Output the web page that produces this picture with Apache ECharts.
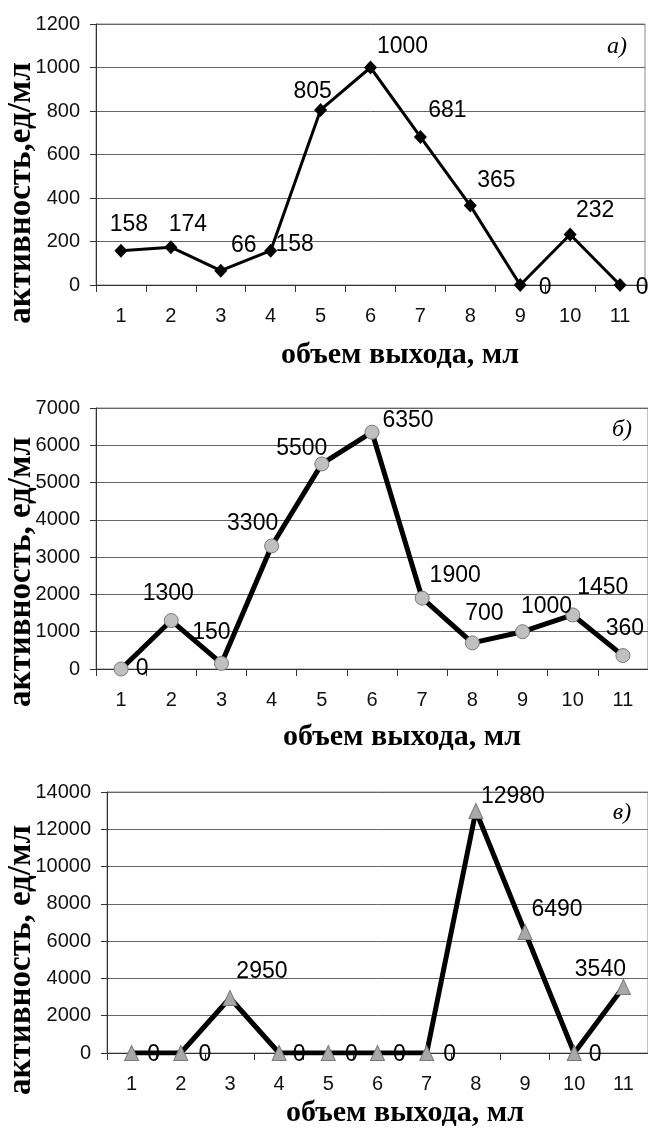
<!DOCTYPE html>
<html>
<head>
<meta charset="utf-8">
<script src="https://cdn.jsdelivr.net/npm/echarts@6/dist/echarts.min.js"></script>
<style>
  html, body { margin: 0; padding: 0; background: #fff; }
  #chart { width: 648px; height: 1137px; }
</style>
</head>
<body>
<div id="chart"></div>
<script>
// Fraction numbers (volume of eluate, ml)
const fractions = ['1', '2', '3', '4', '5', '6', '7', '8', '9', '10', '11'];

// Activity, units/ml, for the three profiles
const activityA = [158, 174, 66, 158, 805, 1000, 681, 365, 0, 232, 0];
const activityB = [0, 1300, 150, 3300, 5500, 6350, 1900, 700, 1000, 1450, 360];
const activityC = [0, 0, 2950, 0, 0, 0, 0, 12980, 6490, 0, 3540];

// Value-axis ranges
const axisA = { max: 1200, step: 200 };
const axisB = { max: 7000, step: 1000 };
const axisC = { max: 14000, step: 2000 };

// Panel captions and axis titles
const panelTags = ['а)', 'б)', 'в)'];
const yTitles = ['активность,ед/мл', 'активность, ед/мл', 'активность, ед/мл'];
const xTitle = 'объем выхода, мл';

// Label placement (pixel offsets from each marker centre)
const labelShiftA = [[8, -26], [17, -22], [23, -25], [24, -6], [-8, -18], [32, -21], [27, -26], [26, -25], [25, 3], [25, -24], [22, 3]];
const labelShiftB = [[21, 0], [-3, -27], [-10, -31], [-19, -22], [-20, -15], [36, -12], [33, -23], [12, -29], [24, -25], [30, -27], [2, -27]];
const labelShiftC = [[22, 2], [24, 2], [32, -26], [20, 2], [23, 2], [22, 2], [23, 2], [37, -14], [32, -22], [21, 2], [-23, -17]];

const SANS = '"Liberation Sans", Arial, sans-serif';
const SERIF = '"Liberation Serif", "Times New Roman", serif';

const grids = [
  { left: 96, top: 24, width: 549, height: 261 },
  { left: 96, top: 408, width: 552, height: 261 },
  { left: 107, top: 792, width: 543, height: 261 }
];

function makeX(i) {
  return {
    type: 'category', gridIndex: i, data: fractions, boundaryGap: true,
    axisLine: { lineStyle: { color: '#333', width: 1 } },
    axisTick: { show: true, interval: 0, length: 7, lineStyle: { color: '#333' } },
    axisLabel: { interval: 0, margin: 21, fontSize: 20, fontFamily: SANS, color: '#111' }
  };
}
function makeY(i, ax) {
  return {
    type: 'value', gridIndex: i, min: 0, max: ax.max, interval: ax.step,
    axisLine: { show: true, lineStyle: { color: '#333', width: 1 } },
    axisTick: { show: true, length: 6, lineStyle: { color: '#333' } },
    axisLabel: { margin: 16, fontSize: 20, fontFamily: SANS, color: '#111', formatter: v => String(v) },
    splitLine: { show: true, lineStyle: { color: '#666', width: 1 } }
  };
}
function withLabels(values, shifts) {
  return values.map((v, k) => ({ value: v, label: { offset: shifts[k] } }));
}
const labelBase = {
  show: true, position: 'inside', color: '#000', fontFamily: SANS, fontSize: 23,
  align: 'center', verticalAlign: 'middle'
};

function yTitle(text, cy) {
  return { type: 'text', x: 21, y: cy, rotation: Math.PI / 2,
    style: { text, fontFamily: SERIF, fontWeight: 'bold', fontSize: 33, fill: '#000', align: 'center', verticalAlign: 'middle' } };
}
function xTitleText(cx, cy) {
  return { type: 'text', x: cx, y: cy,
    style: { text: xTitle, fontFamily: SERIF, fontWeight: 'bold', fontSize: 30, fill: '#000', align: 'center', verticalAlign: 'middle' } };
}
function tag(text, cx, cy) {
  return { type: 'text', x: cx, y: cy,
    style: { text, fontFamily: SERIF, fontStyle: 'italic', fontSize: 24, fill: '#000', align: 'center', verticalAlign: 'middle' } };
}

const option = {
  backgroundColor: '#fff',
  animation: false,
  grid: grids.map(g => Object.assign({ show: true, borderColor: '#8a8a8a', borderWidth: 1, backgroundColor: 'transparent' }, g)),
  xAxis: [makeX(0), makeX(1), makeX(2)],
  yAxis: [makeY(0, axisA), makeY(1, axisB), makeY(2, axisC)],
  series: [
    {
      type: 'line', xAxisIndex: 0, yAxisIndex: 0,
      data: withLabels(activityA, labelShiftA),
      symbol: 'diamond', symbolSize: [13, 14],
      lineStyle: { color: '#000', width: 3 },
      itemStyle: { color: '#000', borderColor: '#000', borderWidth: 0 },
      label: labelBase
    },
    {
      type: 'line', xAxisIndex: 1, yAxisIndex: 1,
      data: withLabels(activityB, labelShiftB),
      symbol: 'circle', symbolSize: 14,
      lineStyle: { color: '#000', width: 5 },
      itemStyle: { color: '#c0c0c0', borderColor: '#7a7a7a', borderWidth: 1 },
      label: labelBase
    },
    {
      type: 'line', xAxisIndex: 2, yAxisIndex: 2,
      data: withLabels(activityC, labelShiftC),
      symbol: 'triangle', symbolSize: [14, 15],
      lineStyle: { color: '#000', width: 5 },
      itemStyle: { color: '#a8a8a8', borderColor: '#7a7a7a', borderWidth: 1 },
      label: labelBase
    }
  ],
  graphic: [
    yTitle(yTitles[0], 193),
    yTitle(yTitles[1], 572),
    yTitle(yTitles[2], 960),
    xTitleText(400, 355),
    xTitleText(402, 737),
    xTitleText(405, 1113),
    tag(panelTags[0], 617, 47),
    tag(panelTags[1], 622, 430),
    tag(panelTags[2], 622, 813)
  ]
};

const chart = echarts.init(document.getElementById('chart'), null, { renderer: 'canvas' });
chart.setOption(option);
</script>
</body>
</html>
